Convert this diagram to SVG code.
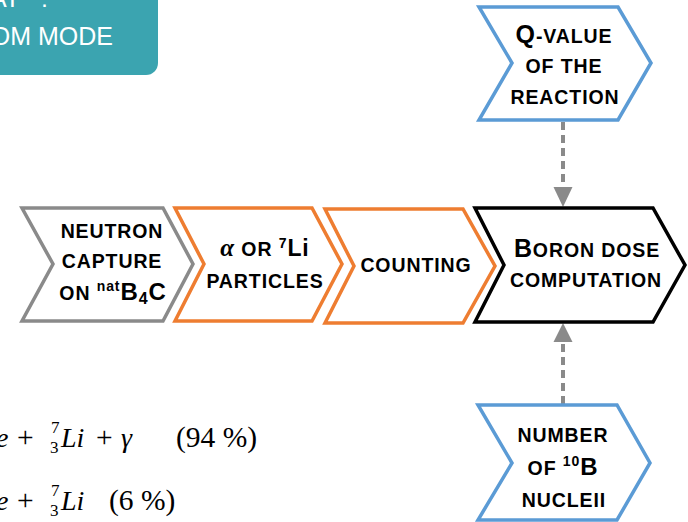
<svg xmlns="http://www.w3.org/2000/svg" width="688" height="522" viewBox="0 0 688 522">
<defs>
<style>
.chev{fill:#ffffff;stroke-width:3.5;stroke-linejoin:miter}
.gray{stroke:#8a8a8a}
.orange{stroke:#ee7d31}
.blue{stroke:#5b9bd5}
.black{stroke:#000000}
.lbl{font-family:"Liberation Sans",Arial,Helvetica,sans-serif;font-weight:bold;font-size:19.5px;letter-spacing:0.9px;fill:#000;text-anchor:middle}
.big{font-size:24px}
.sup{font-size:14px}
.eq{font-family:"Liberation Serif","Times New Roman",serif;font-size:28px;fill:#000}
.it{font-style:italic}
.par{font-size:29.5px}
.small{font-size:17px}
.conn{stroke:#8a8a8a;stroke-width:4;stroke-dasharray:8 5;fill:none}
.head{fill:#8a8a8a}
.teal{font-family:"Liberation Sans",Arial,Helvetica,sans-serif;font-size:25px;fill:#ffffff}
</style>
</defs>
<rect width="688" height="522" fill="#ffffff"/>

<g id="title-box">
<rect x="-20" y="-20" width="178" height="95" rx="12" ry="12" fill="#3ba4b0"/>
<text class="teal" x="-10" y="7">AT<tspan x="34"> :</tspan></text>
<text class="teal" x="113" y="45" text-anchor="end">OM MODE</text>
</g>

<g id="connectors">
<line class="conn" x1="563" y1="122" x2="563" y2="187"/>
<polygon class="head" points="553.5,187 572.5,187 563,207"/>
<line class="conn" x1="563" y1="404" x2="563" y2="342"/>
<polygon class="head" points="553.5,342 572.5,342 563,323"/>
</g>

<g id="node-neutron">
<polygon class="chev gray" points="22,208 163,208 193,264 163,321 22,321 53,264"/>
<text class="lbl" x="112" y="238">NEUTRON</text>
<text class="lbl" x="112" y="268">CAPTURE</text>
<text class="lbl" x="113" y="300">ON <tspan class="sup" dy="-9">nat</tspan><tspan class="big" dy="9">B</tspan><tspan style="font-size:16px" dy="4">4</tspan><tspan class="big" dy="-4">C</tspan></text>
</g>

<g id="node-particles">
<polygon class="chev orange" points="175,208 312,208 342,264 312,321 175,321 204,264"/>
<text class="lbl" x="265" y="256"><tspan style="font-family:'Liberation Serif','Times New Roman',serif;font-style:italic;font-size:25px">α</tspan> OR <tspan class="sup" dy="-8">7</tspan><tspan style="font-size:23px" dy="8">Li</tspan></text>
<text class="lbl" x="265" y="288">PARTICLES</text>
</g>

<g id="node-counting">
<polygon class="chev orange" points="325,209 463,209 495,266 463,323 325,323 354,266"/>
<text class="lbl" x="416" y="272">COUNTING</text>
</g>

<g id="node-boron">
<polygon class="chev black" points="475,208 653,208 685,265 653,322 475,322 504,265"/>
<text class="lbl" x="587" y="257"><tspan style="font-size:25px">B</tspan>ORON DOSE</text>
<text class="lbl" x="586" y="287">COMPUTATION</text>
</g>

<g id="node-qvalue">
<polygon class="chev blue" points="479,7 618,7 651,63 618,120 479,120 512,63"/>
<text class="lbl" x="564" y="43"><tspan style="font-size:25px">Q</tspan>-VALUE</text>
<text class="lbl" x="564" y="73">OF THE</text>
<text class="lbl" x="565" y="104">REACTION</text>
</g>

<g id="node-number">
<polygon class="chev blue" points="478,405 617,405 650,463 617,520 478,520 512,463"/>
<text class="lbl" x="563" y="442">NUMBER</text>
<text class="lbl" x="563" y="475">OF <tspan class="sup" dy="-9">10</tspan><tspan class="big" dy="9">B</tspan></text>
<text class="lbl" x="564" y="507">NUCLEII</text>
</g>

<g id="equations">
<text class="eq it" x="-4" y="447">e</text>
<text class="eq par" x="17" y="447">+</text>
<text class="eq small" x="51" y="433">7</text>
<text class="eq small" x="50" y="453">3</text>
<text class="eq it" x="61" y="447">Li</text>
<text class="eq par" x="96" y="447">+</text>
<text class="eq it" x="121" y="447">γ</text>
<text class="eq par" x="176" y="447">(94 %)</text>

<text class="eq it" x="-4" y="510">e</text>
<text class="eq par" x="17" y="510">+</text>
<text class="eq small" x="51" y="496">7</text>
<text class="eq small" x="50" y="516">3</text>
<text class="eq it" x="61" y="510">Li</text>
<text class="eq par" x="109" y="510">(6 %)</text>
</g>
</svg>
